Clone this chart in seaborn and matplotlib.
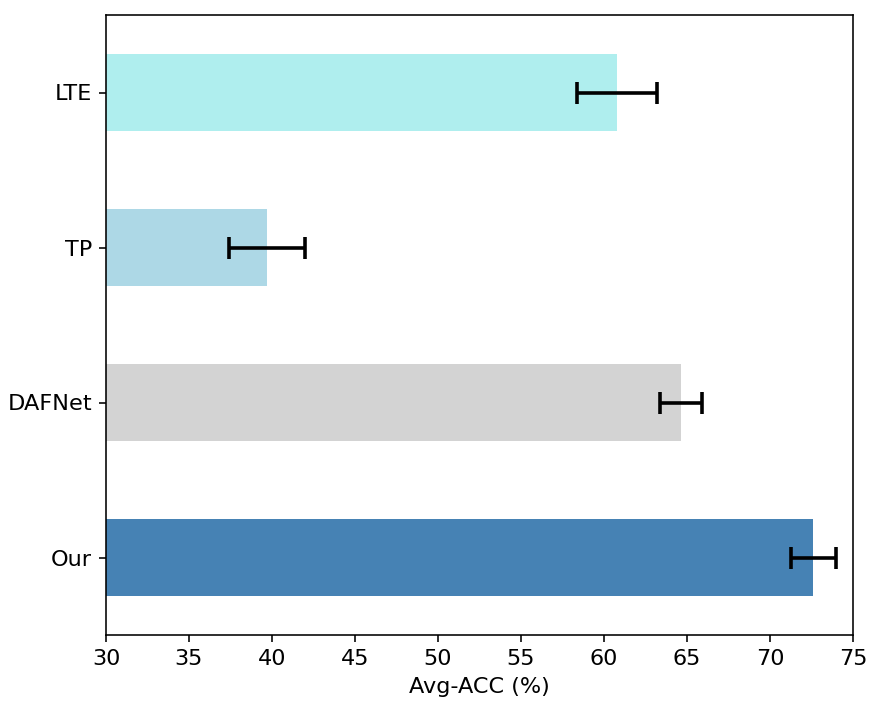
import matplotlib
matplotlib.use("Agg")
import matplotlib.pyplot as plt
import seaborn as sns
import pandas as pd

methods = ["LTE", "TP", "DAFNet", "Our"]
avg_acc = [60.78, 39.69, 64.62, 72.62]
acc_err = [2.39, 2.30, 1.27, 1.35]
bar_colors = ["#AFEEEE", "#ADD8E6", "#D3D3D3", "#4682B4"]
x_ticks = [30, 35, 40, 45, 50, 55, 60, 65, 70, 75]

df = pd.DataFrame({"method": methods, "acc": avg_acc, "err": acc_err})

plt.rcParams["font.family"] = ["DejaVu Sans"]
plt.rcParams["font.size"] = 11.2

fig = plt.figure(figsize=(872 / 144, 708 / 144), dpi=144)
ax = fig.add_axes([106 / 872, 1 - 635 / 708, (853 - 106) / 872, (635 - 15) / 708])

sns.barplot(data=df, x="acc", y="method", hue="method", palette=bar_colors,
            order=methods, hue_order=methods, orient="h", width=0.5,
            saturation=1, errorbar=None, legend=False, ax=ax)

ypos = list(range(len(methods)))
ax.errorbar(df["acc"], ypos, xerr=df["err"], fmt="none", ecolor="black",
            elinewidth=1.8, capsize=5.5, capthick=1.8)

ax.set_xlim(30, 75)
ax.set_ylim(3.5, -0.5)
ax.set_xticks(x_ticks)
ax.set_xticklabels([str(t) for t in x_ticks])
ax.set_xlabel("Avg-ACC (%)", fontsize=11.2)
ax.set_ylabel("")
ax.tick_params(labelsize=11.2)

fig.savefig("out.png", dpi=144)
